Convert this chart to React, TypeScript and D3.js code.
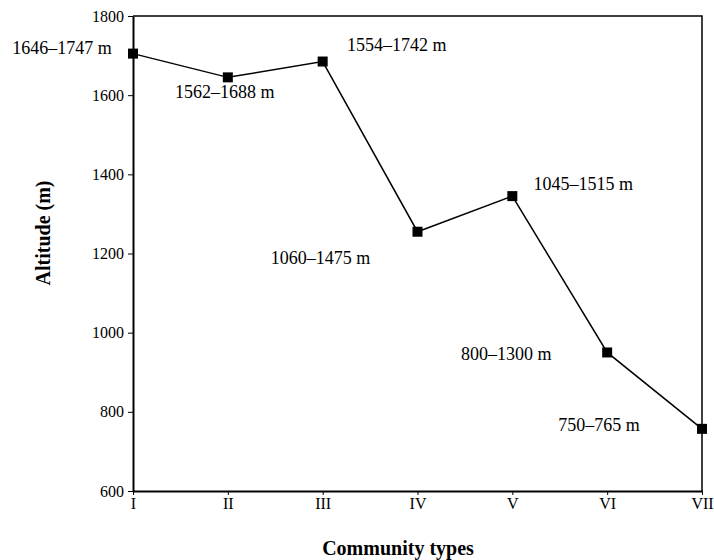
import React, { useEffect, useRef } from 'react';
import * as d3 from 'd3';

const communityTypes = ['I', 'II', 'III', 'IV', 'V', 'VI', 'VII'];
const altitudes = [1705, 1645, 1685, 1255, 1345, 950, 757];
const rangeLabels = [
  '1646–1747 m',
  '1562–1688 m',
  '1554–1742 m',
  '1060–1475 m',
  '1045–1515 m',
  '800–1300 m',
  '750–765 m',
];
const yTicks = [600, 800, 1000, 1200, 1400, 1600, 1800];

// label offsets from each marker (px)
const labelOffsets: [number, number][] = [
  [-71, -6],
  [-3, 15],
  [74, -17],
  [-97, 26],
  [71, -12],
  [-101, 2],
  [-103, -4],
];

const FONT = '"Liberation Serif", "Times New Roman", serif';

export default function App() {
  const ref = useRef<SVGSVGElement>(null);

  useEffect(() => {
    if (!ref.current) return;
    const svg = d3.select(ref.current);
    svg.selectAll('*').remove();

    const margin = { top: 16, right: 12, bottom: 69, left: 133 };
    const width = 714 - margin.left - margin.right;
    const height = 560 - margin.top - margin.bottom;

    const x = d3.scalePoint<string>().domain(communityTypes).range([0, width]);
    const y = d3.scaleLinear().domain([600, 1800]).range([height, 0]);

    const chart = svg
      .append('g')
      .attr('transform', `translate(${margin.left}, ${margin.top})`);

    // frame top + right
    chart
      .append('path')
      .attr('d', `M0,0H${width}V${height}`)
      .attr('fill', 'none')
      .attr('stroke', '#000')
      .attr('stroke-width', 1.5);

    const yAxis = chart
      .append('g')
      .call(
        d3
          .axisLeft(y)
          .tickValues(yTicks)
          .tickSize(5)
          .tickSizeOuter(0)
          .tickPadding(4)
          .tickFormat(d3.format('d'))
      );
    yAxis.select('.domain').attr('stroke-width', 2);
    yAxis
      .selectAll('text')
      .attr('font-family', FONT)
      .attr('font-size', 16)
      .attr('fill', '#000');

    const xAxis = chart
      .append('g')
      .attr('transform', `translate(0, ${height})`)
      .call(d3.axisBottom(x).tickSize(4).tickSizeOuter(0).tickPadding(3));
    xAxis.select('.domain').attr('stroke-width', 2);
    xAxis
      .selectAll('text')
      .attr('font-family', FONT)
      .attr('font-size', 16)
      .attr('fill', '#000');

    const line = d3
      .line<number>()
      .x((_, i) => x(communityTypes[i])!)
      .y((d) => y(d));

    chart
      .append('path')
      .datum(altitudes)
      .attr('d', line)
      .attr('fill', 'none')
      .attr('stroke', '#000')
      .attr('stroke-width', 1.5);

    const size = 10;
    chart
      .selectAll('.marker')
      .data(altitudes)
      .enter()
      .append('rect')
      .attr('class', 'marker')
      .attr('x', (_, i) => x(communityTypes[i])! - size / 2)
      .attr('y', (d) => y(d) - size / 2)
      .attr('width', size)
      .attr('height', size)
      .attr('fill', '#000');

    chart
      .selectAll('.range-label')
      .data(altitudes)
      .enter()
      .append('text')
      .attr('class', 'range-label')
      .text((_, i) => rangeLabels[i])
      .attr('x', (_, i) => x(communityTypes[i])! + labelOffsets[i][0])
      .attr('y', (d, i) => y(d) + labelOffsets[i][1])
      .attr('text-anchor', 'middle')
      .attr('dominant-baseline', 'central')
      .attr('font-family', FONT)
      .attr('font-size', 18)
      .attr('fill', '#000');

    svg
      .append('text')
      .text('Community types')
      .attr('x', 398)
      .attr('y', 548)
      .attr('text-anchor', 'middle')
      .attr('dominant-baseline', 'central')
      .attr('font-family', FONT)
      .attr('font-weight', 'bold')
      .attr('font-size', 20)
      .attr('fill', '#000');

    svg
      .append('text')
      .text('Altitude (m)')
      .attr('transform', 'translate(43, 233) rotate(-90)')
      .attr('text-anchor', 'middle')
      .attr('dominant-baseline', 'central')
      .attr('font-family', FONT)
      .attr('font-weight', 'bold')
      .attr('font-size', 20)
      .attr('fill', '#000');
  }, []);

  return (
    <svg
      ref={ref}
      width={714}
      height={560}
      style={{ position: 'absolute', left: 0, top: 0, background: '#fff' }}
    />
  );
}
